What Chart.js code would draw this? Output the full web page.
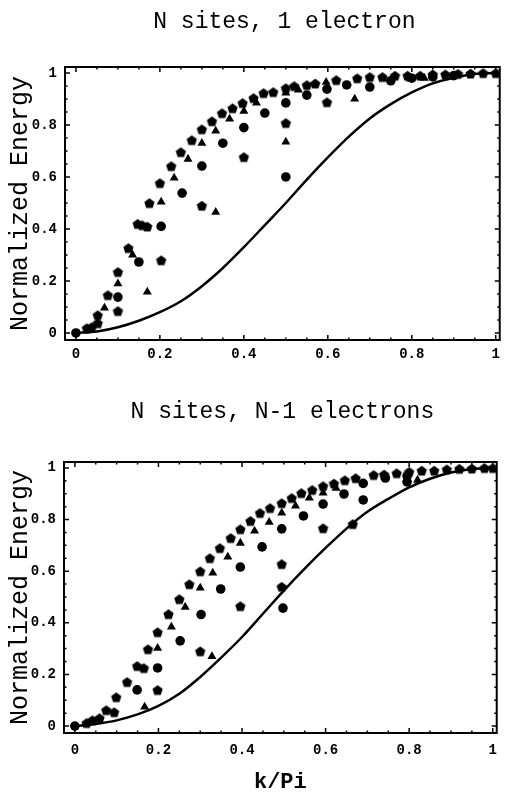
<!DOCTYPE html>
<html>
<head>
<meta charset="utf-8">
<script src="https://cdn.jsdelivr.net/npm/chart.js@4.4.0/dist/chart.umd.min.js"></script>
<style>
body { margin: 0; background: #fff; width: 506px; height: 796px; overflow: hidden; position: relative; }
#top { position: absolute; left: 0; top: 0; }
#bottom { position: absolute; left: 0; top: 390px; }
</style>
</head>
<body>
<canvas id="top" width="506" height="390"></canvas>
<canvas id="bottom" width="506" height="406"></canvas>
<script>
// axis ticks
const tickValues = [0, 0.2, 0.4, 0.6, 0.8, 1]
const tickLabels = ['0', '0.2', '0.4', '0.6', '0.8', '1']
const minorTicks = [0.05, 0.1, 0.15, 0.25, 0.3, 0.35, 0.45, 0.5, 0.55, 0.65, 0.7, 0.75, 0.85, 0.9, 0.95]

// N sites, 1 electron
const curve1X = [0, 0.05, 0.1, 0.15, 0.2, 0.25, 0.3, 0.35, 0.4, 0.45, 0.5, 0.55, 0.6, 0.65, 0.7, 0.75, 0.8, 0.85, 0.9, 0.95, 1]
const curve1Y = [0, 0.006, 0.022, 0.047, 0.08, 0.122, 0.18, 0.25, 0.33, 0.415, 0.5, 0.59, 0.675, 0.755, 0.825, 0.88, 0.925, 0.96, 0.982, 0.996, 1]
const pent1 = [[0.026,0.019],[0.038,0.023],[0.052,0.038],[0.052,0.069],[0.076,0.146],[0.10,0.085],[0.10,0.235],
  [0.125,0.327],[0.147,0.42],[0.158,0.415],[0.17,0.41],[0.175,0.50],[0.20,0.577],[0.203,0.28],[0.227,0.642],
  [0.25,0.696],[0.276,0.742],[0.30,0.784],[0.30,0.49],[0.324,0.815],[0.348,0.846],[0.373,0.865],[0.397,0.885],
  [0.40,0.677],[0.423,0.904],[0.447,0.923],[0.47,0.927],[0.50,0.942],[0.50,0.808],[0.52,0.95],[0.55,0.954],
  [0.57,0.96],[0.598,0.888],[0.62,0.973],[0.67,0.98],[0.70,0.985],[0.73,0.985],[0.76,0.99],[0.79,0.99],
  [0.82,0.99],[0.85,0.995],[0.88,0.995],[0.91,0.997],[0.94,0.998],[0.97,1],[1,1]]
const tri1 = [[0.068,0.096],[0.10,0.19],[0.135,0.30],[0.17,0.158],[0.203,0.504],[0.234,0.596],[0.267,0.669],
  [0.30,0.73],[0.333,0.777],[0.333,0.465],[0.366,0.823],[0.40,0.853],[0.43,0.885],[0.50,0.923],[0.50,0.735],
  [0.53,0.935],[0.596,0.965],[0.664,0.90],[0.797,0.977],[0.83,0.98]]
const circ1 = [[0,0],[0.10,0.138],[0.15,0.273],[0.203,0.41],[0.253,0.538],[0.30,0.642],[0.35,0.73],[0.40,0.79],
  [0.45,0.846],[0.50,0.885],[0.50,0.60],[0.55,0.915],[0.598,0.938],[0.645,0.954],[0.70,0.946],[0.75,0.97],
  [0.80,0.98],[0.85,0.985],[0.90,0.99]]

// N sites, N-1 electrons
const curve2X = [0, 0.05, 0.1, 0.15, 0.2, 0.25, 0.3, 0.35, 0.4, 0.45, 0.5, 0.55, 0.6, 0.65, 0.7, 0.75, 0.8, 0.85, 0.9, 0.95, 1]
const curve2Y = [0, 0.008, 0.022, 0.045, 0.078, 0.125, 0.19, 0.265, 0.345, 0.435, 0.525, 0.61, 0.69, 0.765, 0.83, 0.88, 0.925, 0.958, 0.982, 0.996, 1]
const pent2 = [[0.028,0.012],[0.042,0.023],[0.059,0.031],[0.075,0.062],[0.094,0.054],[0.099,0.112],[0.125,0.171],
  [0.149,0.233],[0.165,0.225],[0.175,0.298],[0.198,0.364],[0.198,0.14],[0.224,0.434],[0.25,0.492],[0.274,0.55],
  [0.30,0.60],[0.30,0.29],[0.323,0.651],[0.347,0.69],[0.373,0.729],[0.396,0.763],[0.396,0.465],[0.42,0.795],
  [0.443,0.826],[0.467,0.845],[0.495,0.864],[0.495,0.628],[0.495,0.54],[0.519,0.884],[0.542,0.903],[0.568,0.915],
  [0.594,0.93],[0.594,0.767],[0.62,0.94],[0.646,0.953],[0.665,0.783],[0.672,0.961],[0.715,0.973],[0.74,0.975],
  [0.77,0.98],[0.80,0.985],[0.83,0.99],[0.86,0.99],[0.89,0.995],[0.92,0.997],[0.95,0.998],[0.98,1],[1,1]]
const tri2 = [[0.167,0.074],[0.198,0.302],[0.231,0.384],[0.264,0.461],[0.30,0.535],[0.33,0.593],[0.328,0.27],
  [0.366,0.655],[0.396,0.709],[0.43,0.756],[0.465,0.79],[0.495,0.826],[0.528,0.853],[0.561,0.884],[0.594,0.903],
  [0.625,0.922],[0.82,0.953]]
const circ2 = [[0,0],[0.149,0.14],[0.198,0.225],[0.252,0.33],[0.302,0.432],[0.349,0.531],[0.396,0.616],
  [0.448,0.694],[0.498,0.457],[0.495,0.764],[0.547,0.814],[0.594,0.86],[0.644,0.899],[0.69,0.94],[0.69,0.876],
  [0.743,0.961],[0.795,0.969],[0.795,0.946]]

// filled pentagon marker
function pentagon(r) {
  const c = document.createElement('canvas')
  const s = Math.ceil(2 * r + 2)
  c.width = c.height = s
  const g = c.getContext('2d')
  g.beginPath()
  for (let i = 0; i < 5; i++) {
    const a = -Math.PI / 2 + i * 2 * Math.PI / 5
    g.lineTo(s / 2 + r * Math.cos(a), s / 2 + 0.6 + r * Math.sin(a))
  }
  g.closePath()
  g.fillStyle = '#000'
  g.fill()
  return c
}
const pentImg = pentagon(5.4)

const toPts = arr => arr.map(p => ({ x: p[0], y: p[1] }))

// frame with inward ticks on all sides
const framePlugin = {
  id: 'frame',
  afterDatasetsDraw(chart) {
    const { ctx, chartArea: a, scales: { x, y } } = chart
    ctx.save()
    ctx.strokeStyle = '#000'
    ctx.lineWidth = 2
    ctx.strokeRect(a.left, a.top, a.right - a.left, a.bottom - a.top)
    ctx.lineWidth = 1.5
    ctx.beginPath()
    const mark = (v, len) => {
      const px = x.getPixelForValue(v), py = y.getPixelForValue(v)
      ctx.moveTo(px, a.bottom); ctx.lineTo(px, a.bottom - len)
      ctx.moveTo(px, a.top); ctx.lineTo(px, a.top + len)
      ctx.moveTo(a.left, py); ctx.lineTo(a.left + len, py)
      ctx.moveTo(a.right, py); ctx.lineTo(a.right - len, py)
    }
    tickValues.forEach(v => mark(v, 5))
    minorTicks.forEach(v => mark(v, 2.5))
    ctx.stroke()
    ctx.restore()
  }
}

// panel heading centred over the plot frame
const headingPlugin = {
  id: 'heading',
  afterDraw(chart, args, opts) {
    const { ctx, chartArea: a } = chart
    ctx.save()
    ctx.font = '23px "Liberation Mono"'
    ctx.fillStyle = '#000'
    ctx.textAlign = 'center'
    ctx.textBaseline = 'middle'
    ctx.fillText(opts.text, (a.left + a.right) / 2 + 2, opts.y)
    ctx.restore()
  }
}

function makeChart(id, cfg) {
  return new Chart(document.getElementById(id), {
    type: 'scatter',
    data: {
      datasets: [
        { data: cfg.curveX.map((v, i) => ({ x: v, y: cfg.curveY[i] })), showLine: true, borderColor: '#000',
          borderWidth: 2.5, pointRadius: 0, cubicInterpolationMode: 'monotone', order: 4 },
        { data: toPts(cfg.pent), pointStyle: pentImg, order: 1 },
        { data: toPts(cfg.tri), pointStyle: 'triangle', pointRadius: 5.2, backgroundColor: '#000', borderColor: '#000', borderWidth: 0, order: 2 },
        { data: toPts(cfg.circ), pointStyle: 'circle', pointRadius: 4.8, backgroundColor: '#000', borderColor: '#000', borderWidth: 0, order: 3 }
      ]
    },
    options: {
      responsive: false,
      animation: false,
      devicePixelRatio: 1,
      layout: { padding: { top: cfg.top, right: 3, left: 0, bottom: 0 } },
      plugins: {
        legend: { display: false },
        tooltip: { enabled: false },
        heading: { text: cfg.title, y: 22 }
      },
      scales: {
        x: {
          type: 'linear', min: -0.026, max: 1.0095,
          afterBuildTicks: s => { s.ticks = tickValues.map(v => ({ value: v })) },
          afterFit: s => { s.height = cfg.xh },
          grid: { display: false, drawTicks: false },
          border: { display: false },
          ticks: { padding: cfg.xpad, color: '#000', maxRotation: 0,
            font: { family: 'Liberation Mono', size: 14, weight: 'bold' },
            callback: (v, i) => tickLabels[i] },
          title: { display: cfg.xtitle, text: 'k/Pi', color: '#000', padding: 0,
            font: { family: 'Liberation Mono', size: 22, weight: 'bold' } }
        },
        y: {
          type: 'linear', min: -0.027, max: 1.023,
          afterBuildTicks: s => { s.ticks = tickValues.map(v => ({ value: v })) },
          afterFit: s => { s.width = cfg.yw },
          grid: { display: false, drawTicks: false },
          border: { display: false },
          ticks: { padding: 8, color: '#000',
            font: { family: 'Liberation Mono', size: 14, weight: 'bold' },
            callback: (v, i) => tickLabels[i] },
          title: { display: true, text: 'Normalized Energy', color: '#000', padding: { top: 5, bottom: 0 },
            font: { family: 'Liberation Mono', size: 25 } }
        }
      }
    },
    plugins: [framePlugin, headingPlugin]
  })
}

makeChart('top', { title: 'N sites, 1 electron', curveX: curve1X, curveY: curve1Y,
  pent: pent1, tri: tri1, circ: circ1, top: 67, xh: 50, yw: 65, xpad: 6, xtitle: false })
makeChart('bottom', { title: 'N sites, N-1 electrons', curveX: curve2X, curveY: curve2Y,
  pent: pent2, tri: tri2, circ: circ2, top: 72, xh: 63, yw: 64, xpad: 9, xtitle: true })
</script>
</body>
</html>
